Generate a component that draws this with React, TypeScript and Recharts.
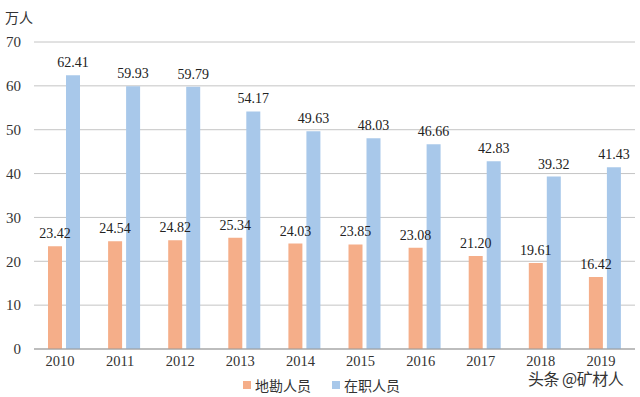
import React from "react";
import { BarChart, Bar, XAxis, YAxis, CartesianGrid, LabelList } from "recharts";

const years = ["2010", "2011", "2012", "2013", "2014", "2015", "2016", "2017", "2018", "2019"];
const exploration = [23.42, 24.54, 24.82, 25.34, 24.03, 23.85, 23.08, 21.2, 19.61, 16.42];
const employed = [62.41, 59.93, 59.79, 54.17, 49.63, 48.03, 46.66, 42.83, 39.32, 41.43];
const yTicks = [0, 10, 20, 30, 40, 50, 60, 70];
const seriesNames = ["地勘人员", "在职人员"];
const seriesColors = ["#F5AE89", "#A8C8EA"];

const data = years.map((y, i) => ({ year: y, a: exploration[i], b: employed[i] }));

const serif = "'Liberation Serif', 'Times New Roman', serif";
const cjk = "'Noto Sans CJK SC', sans-serif";

const fmt = (v: any) => Number(v).toFixed(2);

export default function App() {
  return (
    <div style={{ position: "absolute", left: 0, top: 0, width: 640, height: 397, background: "#fff" }}>
      <div style={{ position: "absolute", left: 5, top: 7, fontFamily: cjk, fontSize: 14, color: "#333" }}>万人</div>
      <div style={{ position: "absolute", left: 528, top: 370, fontFamily: cjk, fontSize: 16, lineHeight: "16px", color: "#333", letterSpacing: -0.5 }}>头条 @矿材人</div>
      <div style={{ position: "absolute", left: 243, top: 376, display: "flex", fontFamily: cjk, fontSize: 14, lineHeight: "18px", color: "#333" }}>
        {seriesNames.map((n, i) => (
          <div key={n} style={{ display: "flex", alignItems: "center", marginRight: 21 }}>
            <span style={{ display: "inline-block", width: 8, height: 8, background: seriesColors[i], marginRight: 4 }} />
            <span>{n}</span>
          </div>
        ))}
      </div>
      <BarChart
        width={640}
        height={397}
        data={data}
        margin={{ top: 42, right: 5, bottom: 18, left: 0 }}
        barSize={14}
        barGap={4}
      >
        <CartesianGrid vertical={false} stroke="#c4c4c4" />
        <XAxis
          dataKey="year"
          axisLine={{ stroke: "#999" }}
          tickLine={false}
          tickSize={0}
          tickMargin={7}
          height={30}
          tick={{ fill: "#333", fontFamily: serif, fontSize: 14.5, dx: -4 }}
        />
        <YAxis
          width={34}
          domain={[0, 70]}
          ticks={yTicks}
          axisLine={false}
          tickLine={false}
          tickSize={0}
          tickMargin={13}
          tick={{ fill: "#333", fontFamily: serif, fontSize: 15 }}
        />
        <Bar dataKey="a" name={seriesNames[0]} fill={seriesColors[0]} isAnimationActive={false}>
          <LabelList dataKey="a" position="top" offset={8} formatter={fmt} style={{ fill: "#222", fontFamily: serif, fontSize: 14 }} />
        </Bar>
        <Bar dataKey="b" name={seriesNames[1]} fill={seriesColors[1]} isAnimationActive={false}>
          <LabelList dataKey="b" position="top" offset={8} formatter={fmt} style={{ fill: "#222", fontFamily: serif, fontSize: 14 }} />
        </Bar>
      </BarChart>
    </div>
  );
}
